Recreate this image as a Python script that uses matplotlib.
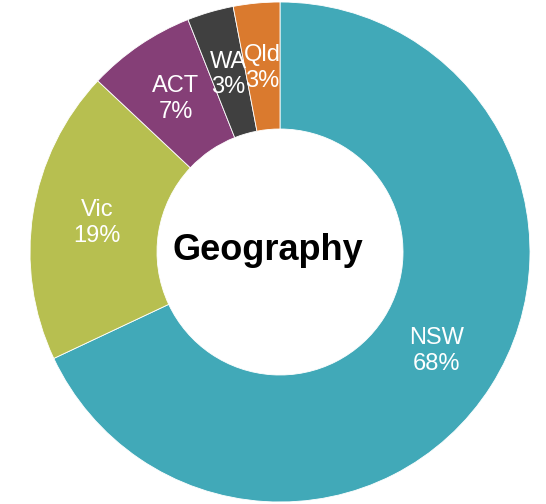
import matplotlib.pyplot as plt
import numpy as np

plt.rcParams['font.family'] = ['Liberation Sans', 'DejaVu Sans']

regions = ['NSW', 'Vic', 'ACT', 'WA', 'Qld']
shares = [68, 19, 7, 3, 3]
colors = ['#41A9B8', '#B7BF50', '#853F77', '#404040', '#DA7A2E']

fig = plt.figure(figsize=(5.46, 5.04), dpi=100)
ax = fig.add_axes([30 / 546, 2 / 504, 500 / 546, 500 / 504])

wedges, _ = ax.pie(shares, colors=colors, startangle=90, counterclock=False,
                   radius=1.0, wedgeprops=dict(width=0.508, edgecolor='white', linewidth=0.6))

# labels in the middle of the ring
r_lab = 0.74
total = sum(shares)
start = 90.0
for name, val in zip(regions, shares):
    mid = start - val / total * 360 / 2
    start -= val / total * 360
    x = r_lab * np.cos(np.radians(mid))
    y = r_lab * np.sin(np.radians(mid))
    ax.text(x, y, f'{name}\n{val}%', ha='center', va='center', color='white',
            fontsize=17, linespacing=1.2)

ax.text(-0.048, 0.005, 'Geography', ha='center', va='center', fontsize=26, fontweight='bold')
ax.set_xlim(-1, 1)
ax.set_ylim(-1, 1)
ax.set_aspect('equal')
ax.axis('off')

fig.savefig('out.png', dpi=100)
